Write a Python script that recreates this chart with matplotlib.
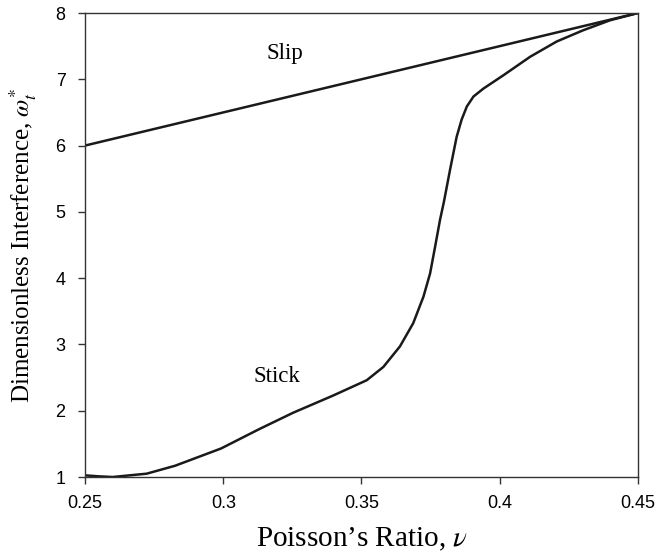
import matplotlib
matplotlib.use("Agg")
import matplotlib.pyplot as plt

plt.rcParams['mathtext.fontset'] = 'stix'

slip_x = [0.25, 0.45]
slip_y = [6.0, 8.0]

stick_x = [0.25, 0.255, 0.260, 0.2723, 0.2826, 0.2992, 0.3129, 0.3253, 0.3398,
           0.3519, 0.3579, 0.3639, 0.3687, 0.3724, 0.3748, 0.3766, 0.3784, 0.3798,
           0.3820, 0.3844, 0.3862, 0.3881, 0.3905, 0.3941, 0.4013, 0.4110, 0.4206,
           0.4302, 0.4399, 0.45]
stick_y = [1.025, 1.01, 1.0, 1.05, 1.17, 1.43, 1.72, 1.97, 2.23,
           2.46, 2.66, 2.97, 3.32, 3.72, 4.07, 4.47, 4.88, 5.15,
           5.63, 6.13, 6.39, 6.59, 6.74, 6.86, 7.06, 7.34, 7.57,
           7.74, 7.89, 8.0]

xticks = [0.25, 0.3, 0.35, 0.4, 0.45]
xticklabels = ['0.25', '0.3', '0.35', '0.4', '0.45']
yticks = [1, 2, 3, 4, 5, 6, 7, 8]

fig = plt.figure(figsize=(6.56, 5.59), dpi=100)
ax = fig.add_axes([85/656, 1 - 477/559, 553/656, 464/559])

ax.plot(slip_x, slip_y, color='#1a1a1a', lw=1.8, solid_capstyle='round')
ax.plot(stick_x, stick_y, color='#1a1a1a', lw=1.8, solid_capstyle='round',
        solid_joinstyle='round')

ax.set_xlim(0.25, 0.45)
ax.set_ylim(1, 8)
ax.set_xticks(xticks)
ax.set_xticklabels(xticklabels)
ax.set_yticks(yticks)
ax.tick_params(direction='out', length=5, width=1, labelsize=13, color='#333333')
ax.tick_params(axis='x', pad=8)
ax.tick_params(axis='y', pad=9)
for lab in ax.get_xticklabels() + ax.get_yticklabels():
    lab.set_family('Liberation Sans')
for s in ax.spines.values():
    s.set_linewidth(1.0)
    s.set_color('#333333')

ax.text(0.3224, 7.39, 'Slip', fontsize=16.5, family='Liberation Serif', ha='center', va='center')
ax.text(0.3194, 2.52, 'Stick', fontsize=16.5, family='Liberation Serif', ha='center', va='center')

ax.set_xlabel(r"Poisson’s Ratio, $\nu$", fontsize=21, family='Liberation Serif', labelpad=10)
ax.set_ylabel(r"Dimensionless Interference, $\omega_t^{*}$", fontsize=18, family='Liberation Serif', labelpad=12)

fig.savefig('out.png', dpi=100)
